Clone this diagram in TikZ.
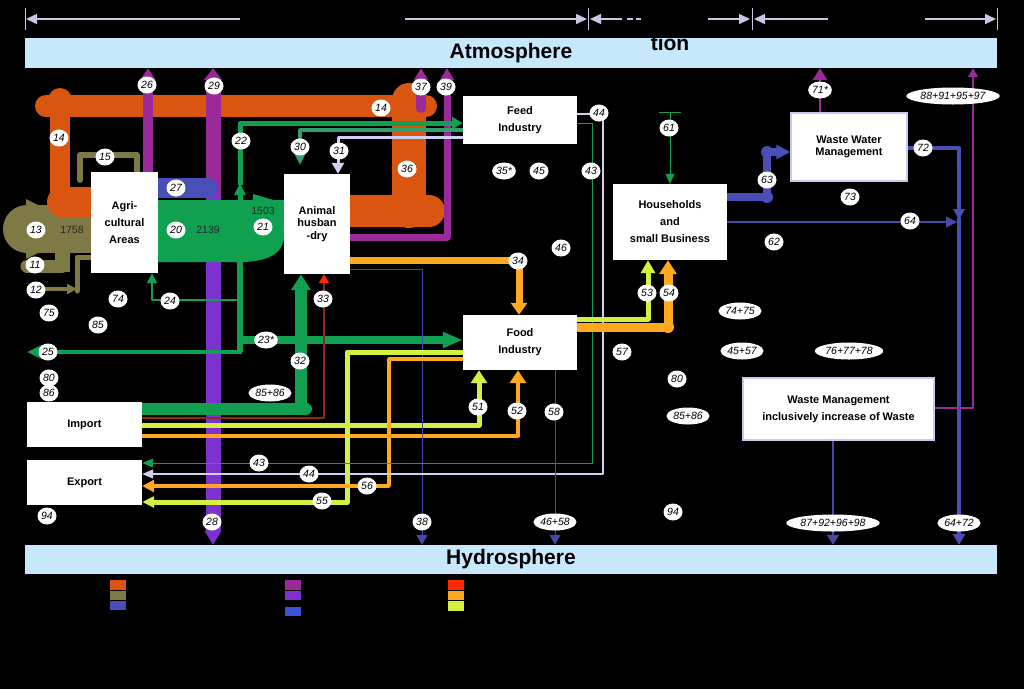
\documentclass[tikz,border=0pt]{standalone}
\usepackage{fontspec}
\setmainfont{Liberation Sans}
\usetikzlibrary{arrows.meta, shapes.geometric, backgrounds}

\definecolor{sphere}{HTML}{C6E8FA}
\definecolor{dimline}{HTML}{C8C8E6}
\definecolor{orng}{HTML}{D95510}
\definecolor{olv}{HTML}{7F7A45}
\definecolor{blu}{HTML}{4A4FB8}
\definecolor{navy}{HTML}{4848A8}
\definecolor{prp}{HTML}{9A2A9A}
\definecolor{vio}{HTML}{7F30D0}
\definecolor{brblue}{HTML}{3F50D8}
\definecolor{grn}{HTML}{10A050}
\definecolor{grnlt}{HTML}{30A070}
\definecolor{redd}{HTML}{FF2A00}
\definecolor{darkred}{HTML}{8A2A1E}
\definecolor{lorng}{HTML}{FFA820}
\definecolor{ygrn}{HTML}{D4F040}
\definecolor{lav}{HTML}{D0D0F2}
\definecolor{boxline}{HTML}{C8C8F0}

\begin{document}
\begin{tikzpicture}[x=1pt, y=-1pt,
  box/.style={fill=white, align=center, inner sep=0pt,
              font=\fontsize{11}{17}\selectfont\bfseries},
  tight/.style={font=\fontsize{11}{12.5}\selectfont\bfseries},
  wbox/.style={box, draw=boxline, line width=1.5pt},
  sphere/.style={fill=sphere, minimum width=972, inner sep=0pt,
                 font=\fontsize{21}{21}\selectfont\bfseries},
  lbl/.style={ellipse, fill=white, inner xsep=0.5pt, inner ysep=0pt,
              minimum width=19, minimum height=17,
              font=\fontsize{10.5}{10.5}\selectfont\itshape},
  val/.style={font=\fontsize{10.5}{10.5}\selectfont, text=black!85},
  flow/.style={line width=#1, line join=round},
  ah/.style n args={2}{-{Triangle[length=#1pt, width=#2pt]}}
]
\useasboundingbox (0,0) rectangle (1024,689);

% spheres
\node[sphere, minimum height=30] (atmo) at (511,53) {Atmosphere};
\node[sphere, minimum height=29] (hydro) at (511,559.5) {Hydrosphere};
\node[font=\fontsize{21}{21}\selectfont\bfseries, text=black] (tion) at (670,43) {tion};

% processes
\node[box, minimum width=67, minimum height=101] (agri) at (124.5,222.5) {Agri-\\cultural\\Areas};
\node[box, tight, minimum width=66, minimum height=100] (anim) at (317,224) {Animal\\husban\\-dry};
\node[box, minimum width=114, minimum height=48] (feed) at (520,120) {Feed\\Industry};
\node[box, minimum width=114, minimum height=55] (food) at (520,342.5) {Food\\Industry};
\node[box, minimum width=114, minimum height=76] (house) at (670,222) {Households\\and\\small Business};
\node[wbox, tight, minimum width=116, minimum height=68] (wwm) at (849,147) {Waste Water\\Management};
\node[wbox, minimum width=191, minimum height=62] (wm) at (838.5,409) {Waste Management\\inclusively increase of Waste};
\node[box, minimum width=115, minimum height=45] (imp) at (84.5,424.5) {Import};
\node[box, minimum width=115, minimum height=45] (exp) at (84.5,482.5) {Export};

\begin{scope}[on background layer]
\fill[black] (0,0) rectangle (1024,689);

% system borders
\coordinate (t0) at (25,19);
\coordinate (t1) at (588,19);
\coordinate (t2) at (752,19);
\coordinate (t3) at (997,19);
\foreach \t in {t0,t1,t2,t3}
  \draw[dimline, flow=1] ([yshift=-11pt]\t) -- ([yshift=11pt]\t);
\draw[dimline, flow=1.5, ah={11}{10}] (240,19) -- ([xshift=1pt]t0);
\draw[dimline, flow=1.5, ah={11}{10}] (405,19) -- ([xshift=-1pt]t1);
\draw[dimline, flow=1.5, ah={11}{10}] (622,19) -- ([xshift=2pt]t1);
\draw[dimline, flow=1.5] (627,19) -- (633,19) (636,19) -- (641,19);
\draw[dimline, flow=1.5, ah={11}{10}] (708,19) -- ([xshift=-2pt]t2);
\draw[dimline, flow=1.5, ah={11}{10}] (828,19) -- ([xshift=2pt]t2);
\draw[dimline, flow=1.5, ah={11}{10}] (925,19) -- ([xshift=-1pt]t3);

% soil input (olive)
\fill[olv] (27,229) circle[radius=24];
\fill[olv] (27,205) rectangle (92,253);
\fill[olv] (26,199) -- (40,206) -- (26,206) -- cycle;
\fill[olv] (26,259) -- (40,252) -- (26,252) -- cycle;
\draw[olv, flow=13, line cap=round] (27,266) -- (62,266);
\fill[olv] (55,250) rectangle (70,272);
\draw[olv, flow=4, line cap=round, ah={10}{10}] (30,289) -- (77,289);
\draw[olv, flow=5, line cap=round] (77,291) -- (77,257) -- (agri.west |- 0,257);
\draw[olv, flow=6, line cap=round] (80,180) -- (80,155) -- (137,155) -- (137,0 |- agri.north);

% manure loop (orange)
\draw[orng, flow=22, line cap=round] (426,106) -- (46,106);
\fill[orng] (60,100) circle[radius=12];
\draw[orng, flow=20] (60,106) -- (60,200);
\draw[orng, flow=30, line cap=round] (62,202) -- (agri.west |- 0,202);
\draw[orng, flow=34, line cap=round] (409,100) -- (409,211);
\draw[orng, flow=32, line cap=round] (anim.east |- 0,211) -- (429,211);

% gaseous losses and leaching (purple / violet)
\draw[vio, flow=15, ah={14}{16}] (213,190) -- (213,0 |- hydro.north);
\draw[prp, flow=15, ah={12}{18}] (213,195) -- (213,0 |- atmo.south);
\draw[prp, flow=10, ah={12}{15}] (148,0 |- agri.north) -- (148,0 |- atmo.south);
\draw[prp, flow=10, line cap=round, ah={12}{14}] (421,108) -- (421,0 |- atmo.south);
\draw[prp, flow=7, ah={12}{14}] (anim.east |- 0,237) -- (447,237) -- (447,0 |- atmo.south);

% blue 27
\draw[blu, flow=20, line cap=round] (agri.east |- 0,188) -- (208,188);

% plant products (green)
\fill[grn] (agri.east |- 0,200) -- (284,200) -- (284,236)
  .. controls (284,252) and (270,262) .. (240,262) -- (agri.east |- 0,262) -- cycle;
\fill[grn] (253,194) -- (284,203) -- (253,203) -- cycle;
\draw[grn, flow=6] (240,255) -- (240,352);
\draw[grn, flow=5, ah={12}{11}] (240,205) -- (240,183);
\draw[grn, flow=5, ah={11}{12}] (240,185) -- (240,123) -- (feed.west |- 0,123);
\draw[grn, flow=8, ah={20}{15}] (237,340) -- (food.west |- 0,340);
\draw[grn, flow=4, ah={15}{13}] (242,352) -- (imp.west |- 0,352);
\draw[grn, flow=1.5, ah={10}{10}] (240,300) -- (152,300) -- (152,0 |- agri.south);
\draw[grnlt, flow=3.5, ah={12}{11}] (feed.west |- 0,130) -- (300,130) -- (300,165);
\draw[lav, flow=3, ah={11}{12}] (feed.west |- 0,137) -- (338,137) -- (338,0 |- anim.north);

% imports
\draw[grn, flow=12, line cap=round] (imp.east |- 0,409) -- (306,409);
\draw[grn, flow=12, ah={16}{19}] (301,412) -- (301,0 |- anim.south);
\draw[darkred, flow=1.5, -{Triangle[length=9pt, width=10pt, color=redd]}]
  (imp.east |- 0,418) -- (324,418) -- (324,0 |- anim.south);
\draw[ygrn, flow=5, ah={13}{16}] (imp.east |- 0,425) -- (479,425) -- (479,0 |- food.south);
\draw[lorng, flow=4, ah={13}{16}] (imp.east |- 0,436) -- (518,436) -- (518,0 |- food.south);

% animal husbandry outputs
\draw[lorng, flow=7, ah={12}{16}] (anim.east |- 0,260) -- (519,260) -- (519,0 |- food.north);
\draw[navy, flow=1, ah={10}{11}] (anim.east |- 0,269) -- (422,269) -- (422,0 |- hydro.north);

% exports
\draw[ygrn, flow=5, ah={12}{11}] (food.west |- 0,352) -- (347,352) -- (347,502) -- (exp.east |- 0,502);
\draw[lorng, flow=3.5, ah={12}{12}] (food.west |- 0,359) -- (389,359) -- (389,486) -- (exp.east |- 0,486);
\draw[grn, flow=1, ah={11}{9}] (feed.east |- 0,123) -- (592,123) -- (592,463) -- (exp.east |- 0,463);
\draw[lav, flow=1.2, ah={11}{9}] (feed.east |- 0,114) -- (603,114) -- (603,474) -- (exp.east |- 0,474);
\draw[navy, flow=1, ah={10}{11}] (555,0 |- food.south) -- (555,0 |- hydro.north);

% food to households
\draw[lorng, flow=9, ah={14}{17}] (food.east |- 0,327) -- (668,327) -- (668,0 |- house.south);
\fill[lorng] (668,327) circle[radius=6];
\draw[ygrn, flow=5, ah={13}{14}] (food.east |- 0,319) -- (648,319) -- (648,0 |- house.south);
\coordinate (src61) at (670,112);
\draw[grn, flow=1] ([xshift=-11pt]src61) -- ([xshift=11pt]src61);
\draw[grn, flow=1, ah={10}{9}] (src61) -- (670,0 |- house.north);

% waste water
\draw[blu, flow=8, ah={14}{14}] (house.east |- 0,197) -- (767,197) -- (767,152) -- (wwm.west |- 0,152);
\fill[blu] (767,197) circle[radius=6];
\fill[blu] (767,152) circle[radius=6];
\draw[prp, flow=2.5, ah={12}{14}] (820,0 |- wwm.north) -- (820,0 |- atmo.south);
\draw[blu, flow=4, ah={11}{11}] (wwm.east |- 0,148) -- (959,148) -- (959,220);
\draw[blu, flow=4, ah={11}{12}] (959,218) -- (959,0 |- hydro.north);
\draw[navy, flow=1.5, ah={11}{11}] (house.east |- 0,222) -- (957,222);

% waste management
\draw[prp, flow=1.5, ah={9}{10}] (wm.east |- 0,408) -- (973,408) -- (973,0 |- atmo.south);
\draw[navy, flow=2, ah={10}{12}] (833,0 |- wm.south) -- (833,0 |- hydro.north);

% legend
\fill[orng] (110,580) rectangle ++(16,10);
\fill[olv] (110,591) rectangle ++(16,9);
\fill[blu] (110,601) rectangle ++(16,9);
\fill[prp] (285,580) rectangle ++(16,10);
\fill[vio] (285,591) rectangle ++(16,9);
\fill[brblue] (285,607) rectangle ++(16,9);
\fill[redd] (448,580) rectangle ++(16,10);
\fill[lorng] (448,591) rectangle ++(16,9);
\fill[ygrn] (448,601) rectangle ++(16,10);
\end{scope}

% values
\node[val] (v1758) at (72,230) {1758};
\node[val] (v2139) at (208,230) {2139};
\node[val] (v1503) at (263,211) {1503};

% flow numbers
\node[lbl] (n14a) at (59,138) {14};
\node[lbl] (n14b) at (381,108) {14};
\node[lbl] (n15) at (105,157) {15};
\node[lbl] (n26) at (147,85) {26};
\node[lbl] (n29) at (214,86) {29};
\node[lbl] (n37) at (421,87) {37};
\node[lbl] (n39) at (446,87) {39};
\node[lbl] (n22) at (241,141) {22};
\node[lbl] (n30) at (300,147) {30};
\node[lbl] (n31) at (339,151) {31};
\node[lbl] (n36) at (407,169) {36};
\node[lbl] (n27) at (176,188) {27};
\node[lbl] (n13) at (36,230) {13};
\node[lbl] (n20) at (176,230) {20};
\node[lbl] (n21) at (263,227) {21};
\node[lbl] (n11) at (35,265) {11};
\node[lbl] (n12) at (36,290) {12};
\node[lbl] (n74) at (118,299) {74};
\node[lbl] (n24) at (170,301) {24};
\node[lbl] (n33) at (323,299) {33};
\node[lbl] (n75) at (49,313) {75};
\node[lbl] (n85) at (98,325) {85};
\node[lbl] (n23) at (266,340) {23*};
\node[lbl] (n25) at (48,352) {25};
\node[lbl] (n32) at (300,361) {32};
\node[lbl] (n80a) at (49,378) {80};
\node[lbl] (n86) at (49,393) {86};
\node[lbl] (n8586a) at (270,393) {85+86};
\node[lbl] (n43a) at (259,463) {43};
\node[lbl] (n44a) at (309,474) {44};
\node[lbl] (n56) at (367,486) {56};
\node[lbl] (n55) at (322,501) {55};
\node[lbl] (n94a) at (47,516) {94};
\node[lbl] (n28) at (212,522) {28};
\node[lbl] (n38) at (422,522) {38};
\node[lbl] (n4658) at (555,522) {46+58};
\node[lbl] (n51) at (478,407) {51};
\node[lbl] (n52) at (517,411) {52};
\node[lbl] (n58) at (554,412) {58};
\node[lbl] (n34) at (518,261) {34};
\node[lbl] (n35) at (504,171) {35*};
\node[lbl] (n45) at (539,171) {45};
\node[lbl] (n43b) at (591,171) {43};
\node[lbl] (n44b) at (599,113) {44};
\node[lbl] (n46) at (561,248) {46};
\node[lbl] (n57) at (622,352) {57};
\node[lbl] (n61) at (669,128) {61};
\node[lbl] (n53) at (647,293) {53};
\node[lbl] (n54) at (669,293) {54};
\node[lbl] (n63) at (767,180) {63};
\node[lbl] (n62) at (774,242) {62};
\node[lbl] (n71) at (820,90) {71*};
\node[lbl] (n73) at (850,197) {73};
\node[lbl] (n72) at (923,148) {72};
\node[lbl] (n64) at (910,221) {64};
\node[lbl] (n88) at (953,96) {88+91+95+97};
\node[lbl] (n7475) at (740,311) {74+75};
\node[lbl] (n4557) at (742,351) {45+57};
\node[lbl] (n767778) at (849,351) {76+77+78};
\node[lbl] (n80b) at (677,379) {80};
\node[lbl] (n8586b) at (688,416) {85+86};
\node[lbl] (n94b) at (673,512) {94};
\node[lbl] (n87) at (833,523) {87+92+96+98};
\node[lbl] (n6472) at (959,523) {64+72};
\end{tikzpicture}
\end{document}
